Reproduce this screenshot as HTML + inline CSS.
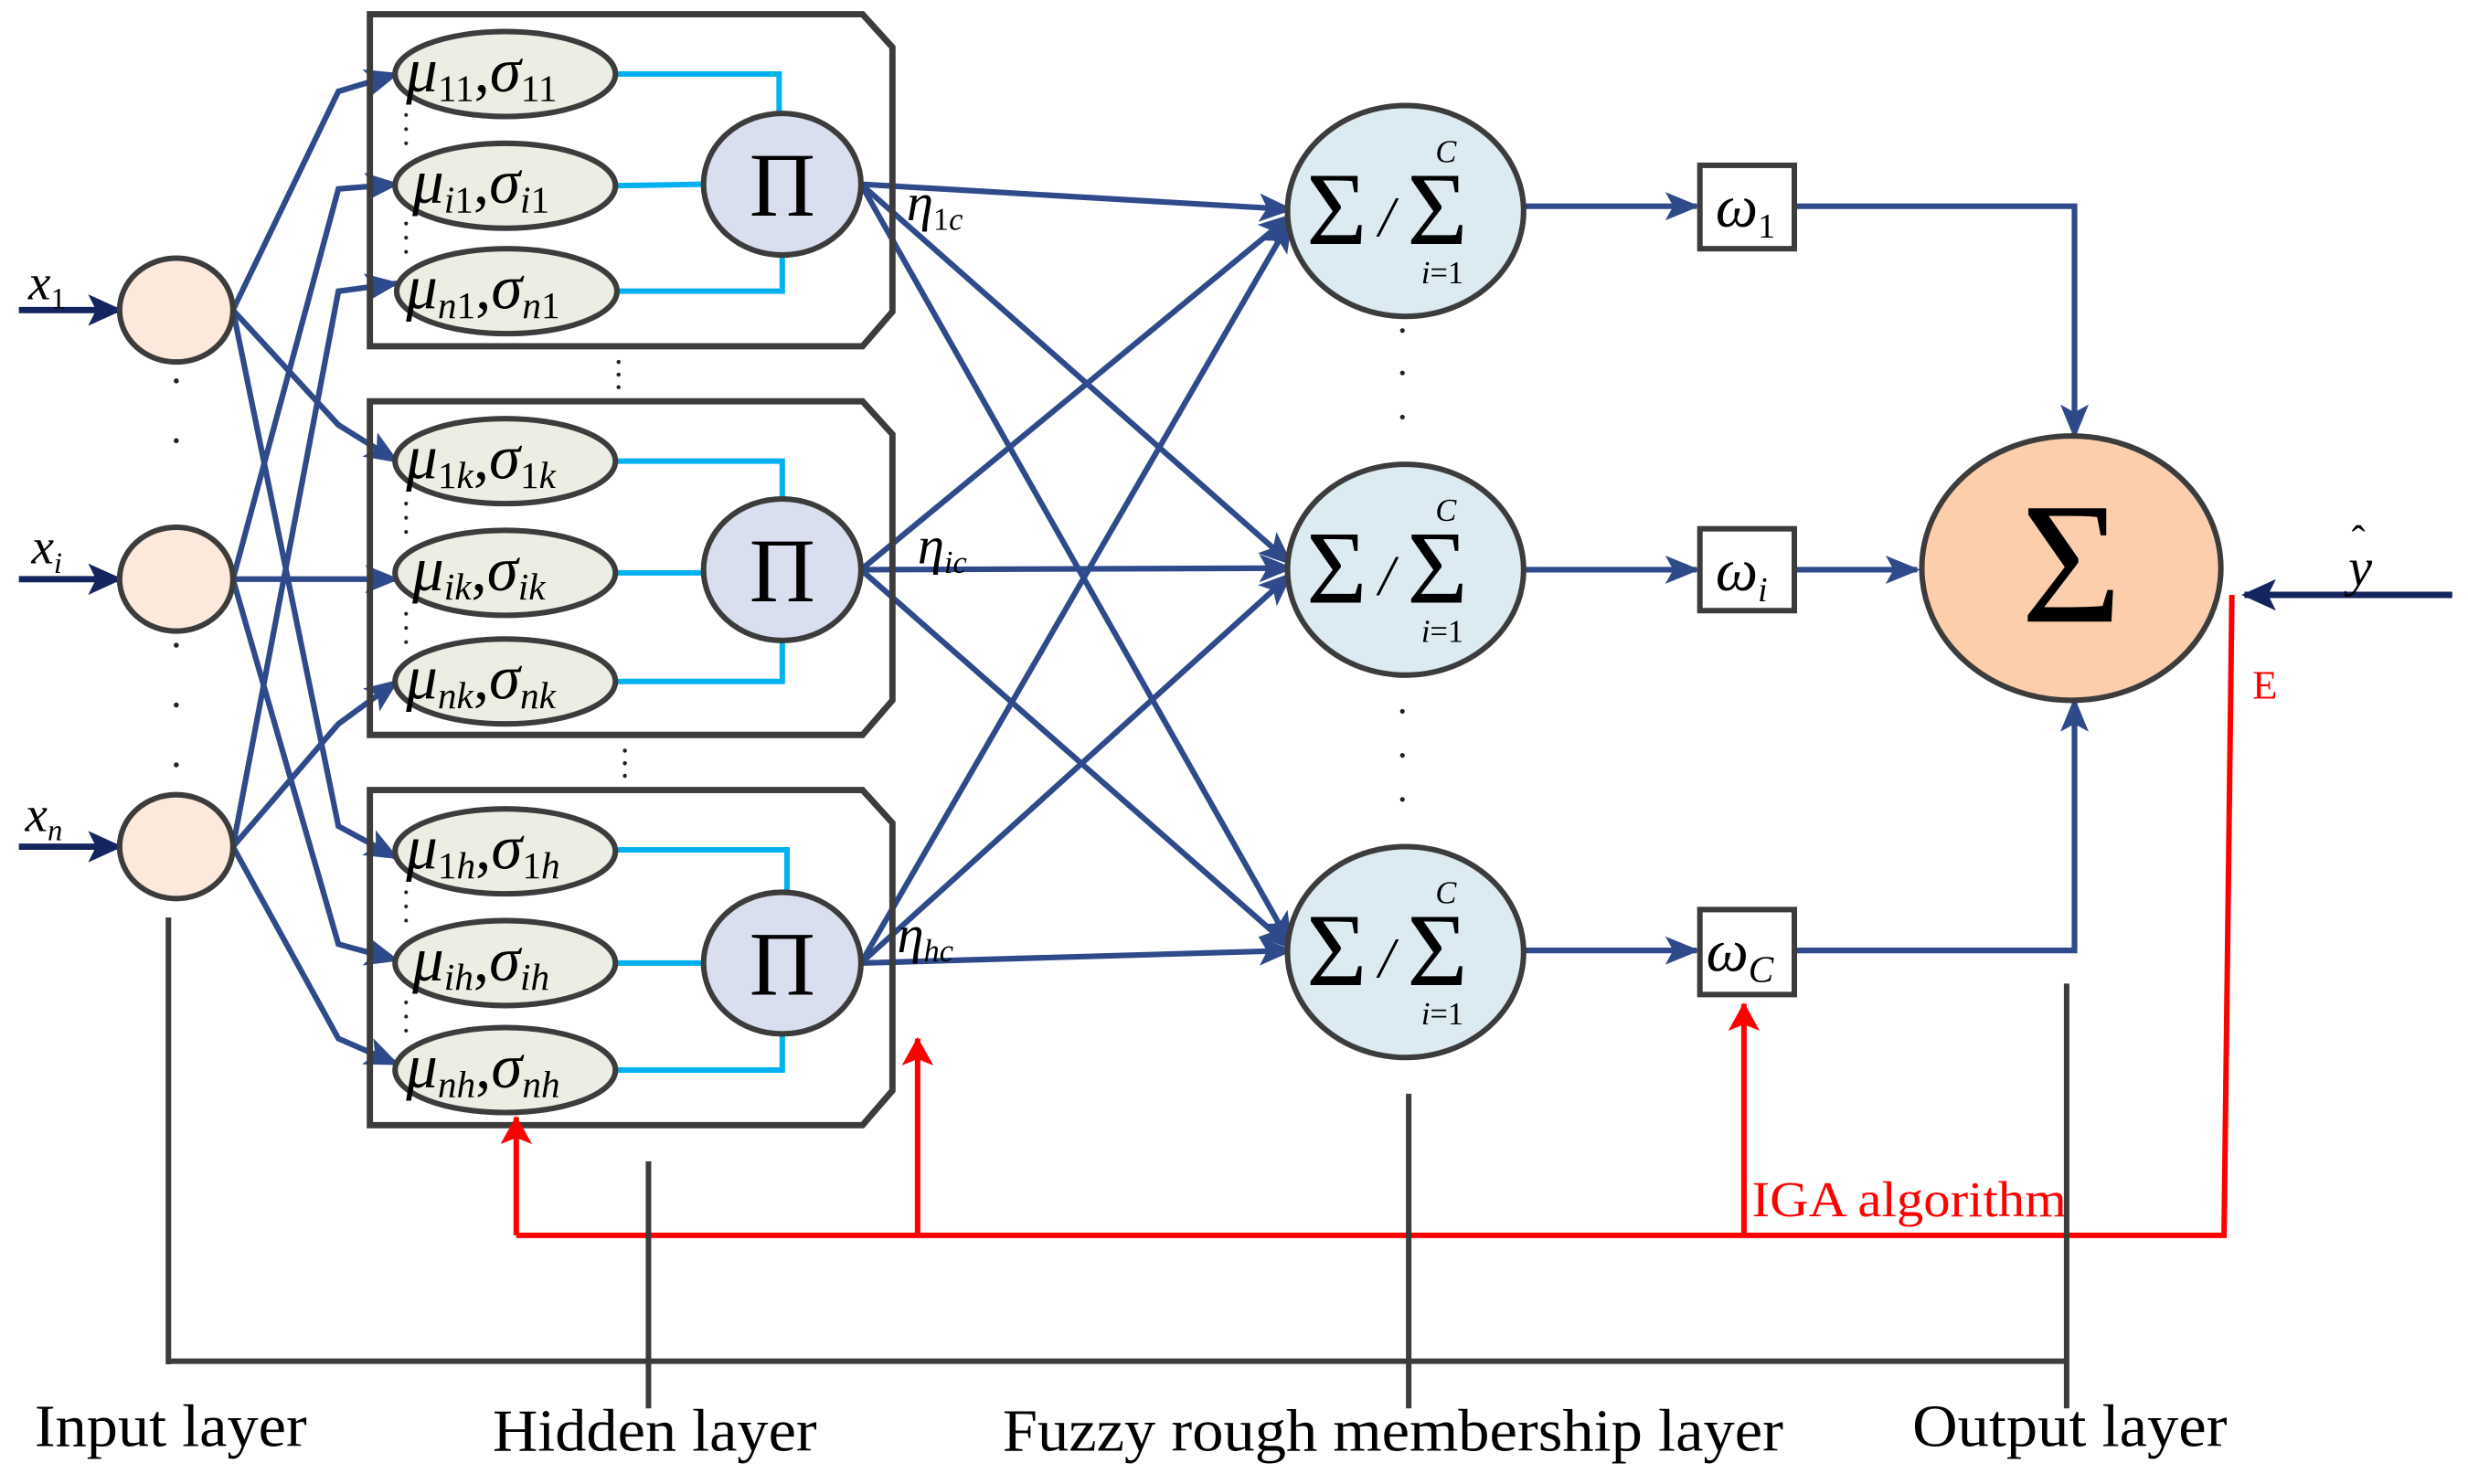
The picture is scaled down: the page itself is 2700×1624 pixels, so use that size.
<!DOCTYPE html>
<html><head><meta charset="utf-8"><style>html,body{margin:0;padding:0;background:#fff}svg{display:block}</style></head>
<body>
<svg width="2700" height="1624" viewBox="0 0 1568 943" xmlns="http://www.w3.org/2000/svg" font-family="Liberation Serif, serif">
<defs>
<marker id="a2" markerWidth="22" markerHeight="18" refX="20" refY="9" orient="auto" markerUnits="userSpaceOnUse"><path d="M0,0 L22,9 L0,18 L5,9z" fill="#2e4a8a"/></marker>
<marker id="an" markerWidth="22" markerHeight="20" refX="20" refY="10" orient="auto" markerUnits="userSpaceOnUse"><path d="M0,0 L22,10 L0,20 L5,10z" fill="#14245e"/></marker>
<marker id="ar" markerWidth="18" markerHeight="20" refX="17" refY="10" orient="auto" markerUnits="userSpaceOnUse"><path d="M0,0 L18,10 L0,20 L4,10z" fill="#ff0000"/></marker>
</defs>
<g stroke="#2e4a8a" stroke-width="3.6" fill="none" marker-end="url(#a2)">
<polyline points="148,197 215,58 252,47"/>
<polyline points="148,197 215,270 252,293"/>
<polyline points="148,197 215,525 252,545"/>
<polyline points="148,368 215,120 252,117"/>
<polyline points="148,368 215,368 252,368"/>
<polyline points="148,368 215,600 252,610"/>
<polyline points="148,538 215,185 252,180"/>
<polyline points="148,538 215,460 252,433"/>
<polyline points="148,538 215,660 252,676"/>
<line x1="547" y1="117" x2="820" y2="133"/>
<line x1="547" y1="117" x2="820" y2="358"/>
<line x1="547" y1="117" x2="820" y2="600"/>
<line x1="547" y1="362" x2="820" y2="137"/>
<line x1="547" y1="362" x2="820" y2="361"/>
<line x1="547" y1="362" x2="820" y2="602"/>
<line x1="547" y1="612" x2="820" y2="140"/>
<line x1="547" y1="612" x2="820" y2="365"/>
<line x1="547" y1="612" x2="820" y2="604"/>
<line x1="968" y1="131" x2="1078" y2="131"/>
<line x1="968" y1="362" x2="1078" y2="362"/>
<line x1="968" y1="604" x2="1078" y2="604"/>
<polyline points="1140,131 1318,131 1318,277"/>
<line x1="1140" y1="362" x2="1218" y2="362"/>
<polyline points="1140,604 1318,604 1318,445"/>
</g>
<g stroke="#14245e" stroke-width="4" fill="none" marker-end="url(#an)">
<line x1="12" y1="197" x2="76" y2="197"/>
<line x1="12" y1="368" x2="76" y2="368"/>
<line x1="12" y1="538" x2="76" y2="538"/>
<line x1="1558" y1="378" x2="1426" y2="378"/>
</g>
<g stroke="#3c3c3c" stroke-width="4" fill="none">
<path d="M235,9 H548 L567,30 V198 L548,220 H235 Z"/>
<path d="M235,255 H548 L567,276 V445 L548,467 H235 Z"/>
<path d="M235,502 H548 L567,523 V693 L548,715 H235 Z"/>
</g>
<g stroke="#00b0ef" stroke-width="3.5" fill="none">
<polyline points="390,47 495,47 495,72"/><line x1="390" y1="118" x2="448" y2="117"/><polyline points="390,185 497,185 497,162"/>
<polyline points="390,293 497,293 497,318"/><line x1="390" y1="364" x2="448" y2="364"/><polyline points="390,433 497,433 497,408"/>
<polyline points="390,540 500,540 500,568"/><line x1="390" y1="612" x2="448" y2="612"/><polyline points="390,680 497,680 497,658"/>
</g>
<g fill="#fde9dc" stroke="#3c3c3c" stroke-width="3.5">
<ellipse cx="112" cy="197" rx="36" ry="33"/><ellipse cx="112" cy="368" rx="36" ry="33"/><ellipse cx="112" cy="538" rx="36" ry="33"/>
</g>
<g fill="#ebeee3" stroke="#3c3c3c" stroke-width="3.5">
<ellipse cx="321" cy="47" rx="70" ry="27"/><ellipse cx="321" cy="118" rx="70" ry="27"/><ellipse cx="322" cy="185" rx="70" ry="27"/>
<ellipse cx="321" cy="293" rx="70" ry="27"/><ellipse cx="321" cy="364" rx="70" ry="27"/><ellipse cx="321" cy="433" rx="70" ry="27"/>
<ellipse cx="321" cy="541" rx="70" ry="27"/><ellipse cx="321" cy="612" rx="70" ry="27"/><ellipse cx="321" cy="680" rx="70" ry="27"/>
</g>
<g fill="#d9dfef" stroke="#3c3c3c" stroke-width="3.5">
<ellipse cx="497" cy="117" rx="50" ry="45"/><ellipse cx="497" cy="362" rx="50" ry="45"/><ellipse cx="497" cy="612" rx="50" ry="45"/>
</g>
<g fill="#dceaf2" stroke="#3c3c3c" stroke-width="3.5">
<ellipse cx="893" cy="134" rx="75" ry="67"/><ellipse cx="893" cy="362" rx="75" ry="67"/><ellipse cx="893" cy="605" rx="75" ry="67"/>
</g>
<ellipse cx="1316" cy="361" rx="95" ry="84" fill="#fcceab" stroke="#3c3c3c" stroke-width="3.5"/>
<g fill="#fff" stroke="#3c3c3c" stroke-width="3.5">
<rect x="1080" y="105" width="60" height="53"/><rect x="1080" y="336" width="60" height="52"/><rect x="1080" y="578" width="60" height="54"/>
</g>
<g fill="#222">
<circle cx="112" cy="242" r="1.6"/><circle cx="112" cy="280" r="1.6"/><circle cx="112" cy="410" r="1.6"/><circle cx="112" cy="448" r="1.6"/><circle cx="112" cy="486" r="1.6"/>
<circle cx="393" cy="230" r="1.3"/><circle cx="393" cy="238" r="1.3"/><circle cx="393" cy="246" r="1.3"/>
<circle cx="397" cy="477" r="1.3"/><circle cx="397" cy="485" r="1.3"/><circle cx="397" cy="493" r="1.3"/>
<circle cx="891" cy="210" r="1.5"/><circle cx="891" cy="237" r="1.5"/><circle cx="891" cy="265" r="1.5"/>
<circle cx="891" cy="452" r="1.5"/><circle cx="891" cy="480" r="1.5"/><circle cx="891" cy="508" r="1.5"/>
<circle cx="258" cy="73" r="1.2"/><circle cx="258" cy="82" r="1.2"/><circle cx="258" cy="91" r="1.2"/><circle cx="258" cy="142" r="1.2"/><circle cx="258" cy="151" r="1.2"/><circle cx="258" cy="160" r="1.2"/>
<circle cx="258" cy="320" r="1.2"/><circle cx="258" cy="329" r="1.2"/><circle cx="258" cy="338" r="1.2"/><circle cx="258" cy="390" r="1.2"/><circle cx="258" cy="399" r="1.2"/><circle cx="258" cy="408" r="1.2"/>
<circle cx="258" cy="567" r="1.2"/><circle cx="258" cy="576" r="1.2"/><circle cx="258" cy="585" r="1.2"/><circle cx="258" cy="637" r="1.2"/><circle cx="258" cy="646" r="1.2"/><circle cx="258" cy="655" r="1.2"/>
</g>
<g font-style="italic" font-size="32" fill="#000">
<text x="18" y="190">x<tspan font-size="19" font-style="normal" dy="6">1</tspan></text>
<text x="20" y="358">x<tspan font-size="19" dy="6">i</tspan></text>
<text x="16" y="528">x<tspan font-size="19" dy="6">n</tspan></text>
</g>
<g font-style="italic" font-size="40" fill="#000">
<text x="258" y="58">μ<tspan font-size="24" font-style="normal" dy="6">11</tspan><tspan dy="-6" font-style="normal">,</tspan>σ<tspan font-size="24" font-style="normal" dy="6">11</tspan></text>
<text x="262" y="129">μ<tspan font-size="24" dy="6">i</tspan><tspan font-size="24" font-style="normal">1</tspan><tspan dy="-6" font-style="normal">,</tspan>σ<tspan font-size="24" dy="6">i</tspan><tspan font-size="24" font-style="normal">1</tspan></text>
<text x="258" y="196">μ<tspan font-size="24" dy="6">n</tspan><tspan font-size="24" font-style="normal">1</tspan><tspan dy="-6" font-style="normal">,</tspan>σ<tspan font-size="24" dy="6">n</tspan><tspan font-size="24" font-style="normal">1</tspan></text>
<text x="258" y="304">μ<tspan font-size="24" font-style="normal" dy="6">1</tspan><tspan font-size="24">k</tspan><tspan dy="-6" font-style="normal">,</tspan>σ<tspan font-size="24" font-style="normal" dy="6">1</tspan><tspan font-size="24">k</tspan></text>
<text x="262" y="375">μ<tspan font-size="24" dy="6">ik</tspan><tspan dy="-6" font-style="normal">,</tspan>σ<tspan font-size="24" dy="6">ik</tspan></text>
<text x="258" y="444">μ<tspan font-size="24" dy="6">nk</tspan><tspan dy="-6" font-style="normal">,</tspan>σ<tspan font-size="24" dy="6">nk</tspan></text>
<text x="258" y="552">μ<tspan font-size="24" font-style="normal" dy="6">1</tspan><tspan font-size="24">h</tspan><tspan dy="-6" font-style="normal">,</tspan>σ<tspan font-size="24" font-style="normal" dy="6">1</tspan><tspan font-size="24">h</tspan></text>
<text x="262" y="623">μ<tspan font-size="24" dy="6">ih</tspan><tspan dy="-6" font-style="normal">,</tspan>σ<tspan font-size="24" dy="6">ih</tspan></text>
<text x="258" y="691">μ<tspan font-size="24" dy="6">nh</tspan><tspan dy="-6" font-style="normal">,</tspan>σ<tspan font-size="24" dy="6">nh</tspan></text>
</g>
<g font-size="58" fill="#000" text-anchor="middle">
<text x="497" y="137">Π</text><text x="497" y="382">Π</text><text x="497" y="632">Π</text>
</g>
<g font-style="italic" font-size="34" fill="#000">
<text x="576" y="140">η<tspan font-size="20" font-style="normal" dy="6">1</tspan><tspan font-size="20">c</tspan></text>
<text x="583" y="358">η<tspan font-size="20" dy="6">ic</tspan></text>
<text x="570" y="605">η<tspan font-size="20" dy="6">hc</tspan></text>
</g>
<g fill="#000">
<g>
<text x="830" y="155" font-size="66">Σ</text><text x="876" y="150" font-size="36" font-style="italic">/</text><text x="894" y="155" font-size="66">Σ</text>
<text x="912" y="103" font-size="20" font-style="italic">C</text><text x="903" y="180" font-size="20"><tspan font-style="italic">i</tspan>=1</text>
</g>
<g transform="translate(0,228)">
<text x="830" y="155" font-size="66">Σ</text><text x="876" y="150" font-size="36" font-style="italic">/</text><text x="894" y="155" font-size="66">Σ</text>
<text x="912" y="103" font-size="20" font-style="italic">C</text><text x="903" y="180" font-size="20"><tspan font-style="italic">i</tspan>=1</text>
</g>
<g transform="translate(0,471)">
<text x="830" y="155" font-size="66">Σ</text><text x="876" y="150" font-size="36" font-style="italic">/</text><text x="894" y="155" font-size="66">Σ</text>
<text x="912" y="103" font-size="20" font-style="italic">C</text><text x="903" y="180" font-size="20"><tspan font-style="italic">i</tspan>=1</text>
</g>
<text x="1316" y="395" font-size="110" text-anchor="middle">Σ</text>
<text x="1090" y="144" font-size="38" font-style="italic">ω<tspan font-size="22" font-style="normal" dy="7">1</tspan></text>
<text x="1090" y="375" font-size="38" font-style="italic">ω<tspan font-size="22" dy="7">i</tspan></text>
<text x="1084" y="617" font-size="38" font-style="italic">ω<tspan font-size="24" dy="7">C</tspan></text>
<text x="1492" y="372" font-size="34" font-style="italic">y</text><text x="1494" y="352" font-size="26">ˆ</text>
</g>
<g stroke="#ff0000" stroke-width="3.5" fill="none">
<polyline points="328,785 1413,785 1418,378"/>
<line x1="328" y1="785" x2="328" y2="710" marker-end="url(#ar)"/>
<line x1="583" y1="785" x2="583" y2="660" marker-end="url(#ar)"/>
<line x1="1108" y1="785" x2="1108" y2="638" marker-end="url(#ar)"/>
</g>
<text x="1431" y="444" font-size="26" fill="#ff0000">E</text>
<text x="1113" y="773" font-size="32" fill="#ff0000" textLength="200" lengthAdjust="spacingAndGlyphs">IGA algorithm</text>
<g stroke="#3c3c3c" stroke-width="3.5" fill="none">
<line x1="107" y1="865" x2="1313" y2="865"/>
<line x1="107" y1="583" x2="107" y2="867"/>
<line x1="412" y1="738" x2="412" y2="895"/>
<line x1="895" y1="695" x2="895" y2="895"/>
<line x1="1313" y1="625" x2="1313" y2="895"/>
</g>
<g font-size="38" fill="#000">
<text x="22" y="919" textLength="173" lengthAdjust="spacingAndGlyphs">Input layer</text>
<text x="313" y="922" textLength="206" lengthAdjust="spacingAndGlyphs">Hidden layer</text>
<text x="637" y="922" textLength="496" lengthAdjust="spacingAndGlyphs">Fuzzy rough membership layer</text>
<text x="1215" y="919" textLength="200" lengthAdjust="spacingAndGlyphs">Output layer</text>
</g>
</svg>
</body></html>
